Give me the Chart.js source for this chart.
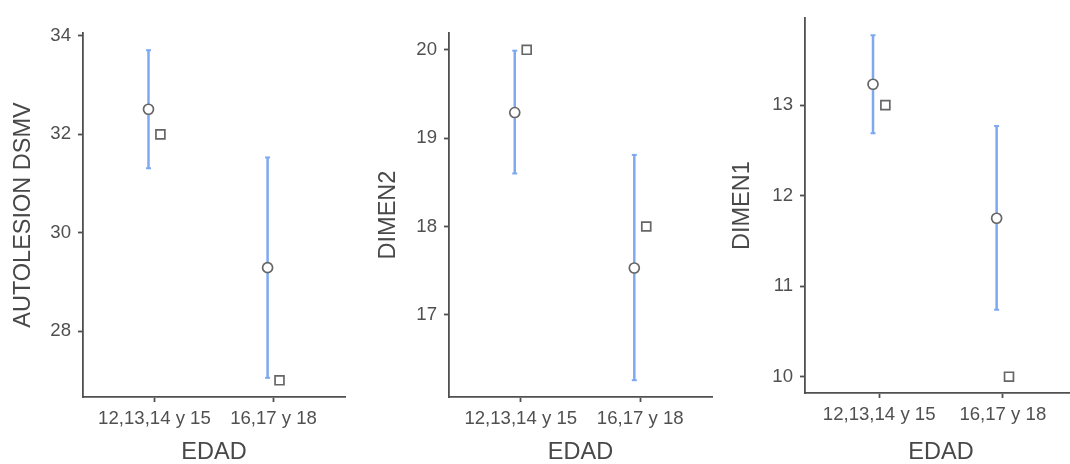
<!DOCTYPE html>
<html>
<head>
<meta charset="utf-8">
<script src="https://cdn.jsdelivr.net/npm/chart.js@4.4.1/dist/chart.umd.min.js"></script>
<style>
  html, body { margin: 0; padding: 0; background: #fff; overflow: hidden; width: 1070px; height: 464px; }
  canvas { position: absolute; top: 0; }
</style>
</head>
<body>
<canvas id="c1" width="355" height="464" style="left:0px"></canvas>
<canvas id="c2" width="360" height="464" style="left:360px"></canvas>
<canvas id="c3" width="367" height="464" style="left:720px"></canvas>
<script>
// Age groups on the x axis
const categories = ['12,13,14 y 15', '16,17 y 18'];

// AUTOLESION DSMV: mean, interval bounds, median
const autolesionMean = [32.51, 29.29];
const autolesionLow = [31.31, 27.05];
const autolesionHigh = [33.71, 31.53];
const autolesionMedian = [32, 27];
const autolesionTicks = [28, 30, 32, 34];

// DIMEN2
const dimen2Mean = [19.29, 17.53];
const dimen2Low = [18.60, 16.26];
const dimen2High = [19.99, 18.81];
const dimen2Median = [20, 18];
const dimen2Ticks = [17, 18, 19, 20];

// DIMEN1
const dimen1Mean = [13.23, 11.75];
const dimen1Low = [12.69, 10.74];
const dimen1High = [13.77, 12.77];
const dimen1Median = [13, 10];
const dimen1Ticks = [10, 11, 12, 13];

const FONT = "'Liberation Sans', Arial, sans-serif";
const AXIS = '#505050';
const TEXT = '#505050';
const BAR = '#7ea8f0';
const MARK = '#666666';
const SHIFT = 0.05;

function panel(id, cfg) {
  const datasets = [];
  datasets.push({
    label: 'media',
    order: 0,
    data: cfg.mean.map((v, i) => ({ x: i - SHIFT, y: v })),
    pointStyle: 'circle',
    pointRadius: 5,
    pointBackgroundColor: '#ffffff',
    pointBorderColor: MARK,
    pointBorderWidth: 1.7
  });
  datasets.push({
    label: 'mediana',
    order: 1,
    data: cfg.median.map((v, i) => ({ x: i + SHIFT, y: v })),
    pointStyle: 'rect',
    pointRadius: 6.3,
    pointBackgroundColor: '#ffffff',
    pointBorderColor: MARK,
    pointBorderWidth: 1.7
  });
  cfg.low.forEach((lo, i) => {
    datasets.push({
      label: 'ic' + i,
      order: 2,
      showLine: true,
      data: [{ x: i - SHIFT, y: lo }, { x: i - SHIFT, y: cfg.high[i] }],
      borderColor: BAR,
      borderWidth: 2.5,
      pointStyle: 'line',
      pointRadius: 2.5,
      pointBorderColor: BAR,
      pointBorderWidth: 2
    });
  });

  return new Chart(document.getElementById(id), {
    type: 'scatter',
    data: { datasets },
    options: {
      responsive: false,
      animation: false,
      devicePixelRatio: 1,
      layout: { padding: { left: 0, top: cfg.padTop, right: cfg.padRight, bottom: 0 } },
      plugins: { legend: { display: false }, tooltip: { enabled: false } },
      scales: {
        x: {
          type: 'linear',
          min: -0.6,
          max: 1.6,
          afterBuildTicks: a => { a.ticks = categories.map((c, i) => ({ value: i })); },
          afterFit: s => { s.height = cfg.xAxisHeight; },
          border: { display: true, color: AXIS, width: 1.8 },
          grid: { drawOnChartArea: false, drawTicks: true, tickLength: 5, tickColor: AXIS, tickWidth: 1.8 },
          ticks: {
            font: { family: FONT, size: 18.6 },
            color: TEXT,
            padding: 6,
            maxRotation: 0,
            callback: v => categories[v]
          },
          title: {
            display: true,
            text: 'EDAD',
            color: '#484848',
            font: { family: FONT, size: 23.5, lineHeight: 1 },
            padding: { top: 0, bottom: 0 }
          }
        },
        y: {
          type: 'linear',
          min: cfg.yMin,
          max: cfg.yMax,
          afterBuildTicks: a => { a.ticks = cfg.ticks.map(v => ({ value: v })); },
          afterFit: s => { s.width = cfg.yAxisWidth; },
          border: { display: true, color: AXIS, width: 1.8 },
          grid: { drawOnChartArea: false, drawTicks: true, tickLength: 5, tickColor: AXIS, tickWidth: 1.8 },
          ticks: {
            font: { family: FONT, size: 18.6 },
            color: TEXT,
            padding: 7
          },
          title: {
            display: true,
            text: cfg.title,
            color: '#484848',
            font: { family: FONT, size: 23.5, lineHeight: 1 },
            padding: { top: cfg.yTitlePad, bottom: 0 }
          }
        }
      }
    }
  });
}

panel('c1', {
  title: 'AUTOLESION DSMV',
  mean: autolesionMean, low: autolesionLow, high: autolesionHigh, median: autolesionMedian,
  ticks: autolesionTicks, yMin: 26.66, yMax: 34.06,
  yAxisWidth: 83, xAxisHeight: 67, padTop: 33, padRight: 10, yTitlePad: 11.5
});

panel('c2', {
  title: 'DIMEN2',
  mean: dimen2Mean, low: dimen2Low, high: dimen2High, median: dimen2Median,
  ticks: dimen2Ticks, yMin: 16.07, yMax: 20.19,
  yAxisWidth: 89, xAxisHeight: 67, padTop: 33, padRight: 8, yTitlePad: 16.5
});

panel('c3', {
  title: 'DIMEN1',
  mean: dimen1Mean, low: dimen1Low, high: dimen1High, median: dimen1Median,
  ticks: dimen1Ticks, yMin: 9.82, yMax: 13.96,
  yAxisWidth: 85, xAxisHeight: 71, padTop: 17, padRight: 10, yTitlePad: 10.5
});
</script>
</body>
</html>
